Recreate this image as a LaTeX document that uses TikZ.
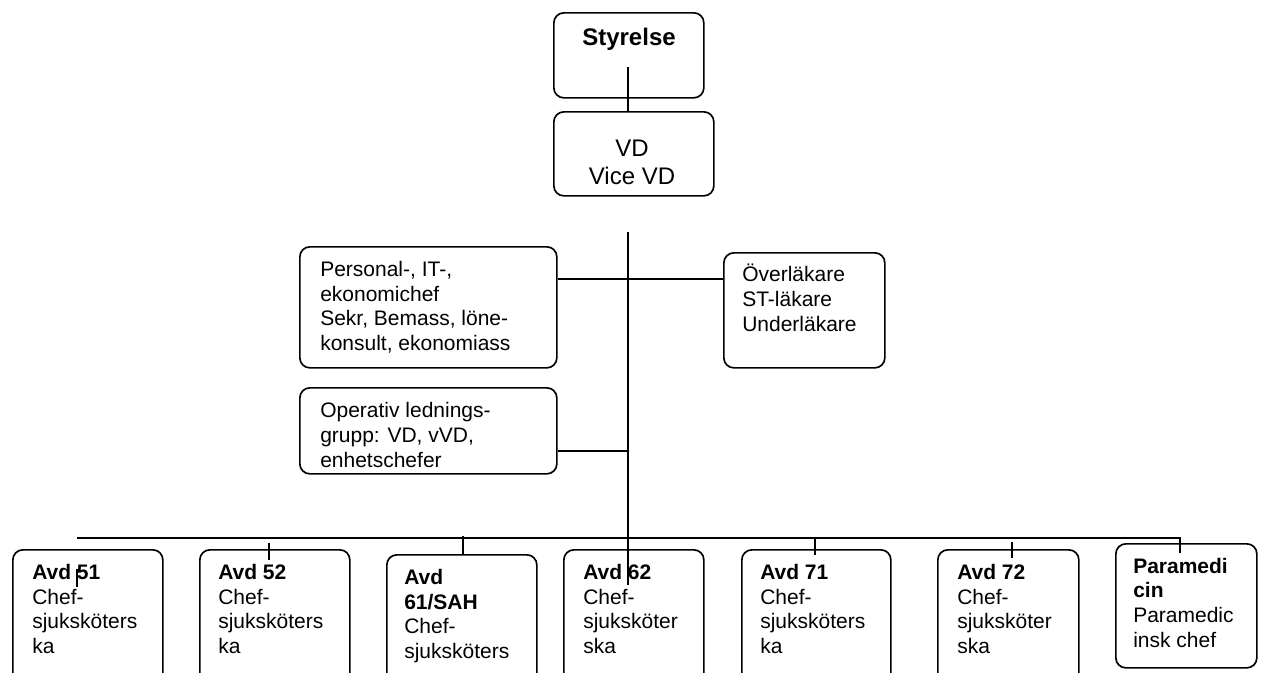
\documentclass[tikz,border=0pt]{standalone}
\usepackage{fontspec}
\setmainfont{Liberation Sans}
\begin{document}
\begin{tikzpicture}[x=0.75pt,y=-0.75pt,
  box/.style={draw, line width=1.25pt, rounded corners=7.5pt, inner sep=0pt, anchor=north west},
  txt/.style={font=\fontsize{15.75}{18.4}\selectfont, inner sep=0pt, align=left, anchor=base west},
  bigtxt/.style={font=\fontsize{18}{20.6}\selectfont, inner sep=0pt, align=center, anchor=base},
  conn/.style={line width=1pt}]
\clip (0,0) rectangle (1263,672);
\fill[white] (0,0) rectangle (1263,672);
% boxes
\node[box, minimum width=112.5pt, minimum height=63.75pt] (sty) at (553,12) {};
\node[box, minimum width=120pt, minimum height=63pt] (vd) at (553,111) {};
\node[box, minimum width=192.75pt, minimum height=90.75pt] (pers) at (299,246) {};
\node[box, minimum width=120.75pt, minimum height=86.25pt] (ovl) at (723,252) {};
\node[box, minimum width=192.75pt, minimum height=64.5pt] (op) at (299,387) {};
\node[box, minimum width=112.5pt, minimum height=105.75pt] (a51) at (12,549) {};
\node[box, minimum width=112.5pt, minimum height=105.75pt] (a52) at (199,549) {};
\node[box, minimum width=112.5pt, minimum height=102pt] (a61) at (386,554) {};
\node[box, minimum width=105pt, minimum height=105.75pt] (a62) at (563,549) {};
\node[box, minimum width=111.75pt, minimum height=105.75pt] (a71) at (741,549) {};
\node[box, minimum width=105.75pt, minimum height=105.75pt] (a72) at (937,549) {};
\node[box, minimum width=105.75pt, minimum height=93pt] (para) at (1115,543) {};
% texts (anchor = baseline of the last line)
\node[bigtxt] (tsty) at (629,45) {\textbf{Styrelse}};
\node[bigtxt] (tvd) at (632,184) {VD\\Vice VD};
\node[txt] (tpers) at (320,350.5) {Personal-, IT-,\\ekonomichef\\Sekr, Bemass, löne-\\konsult, ekonomiass};
\node[txt] (tovl) at (742,331) {Överläkare\\ST-läkare\\Underläkare};
\node[txt] (top) at (320,467) {Operativ lednings-\\grupp: VD, vVD,\\enhetschefer};
\node[txt] (t51) at (32,653.5) {\textbf{Avd 51}\\Chef-\\sjuksköters\\ka};
\node[txt] (t52) at (218,653.5) {\textbf{Avd 52}\\Chef-\\sjuksköters\\ka};
\node[txt] (t61) at (404,658.5) {\textbf{Avd}\\\textbf{61/SAH}\\Chef-\\sjuksköters};
\node[txt] (t62) at (583,653.5) {\textbf{Avd 62}\\Chef-\\sjuksköter\\ska};
\node[txt] (t71) at (760,653.5) {\textbf{Avd 71}\\Chef-\\sjuksköters\\ka};
\node[txt] (t72) at (957,653.5) {\textbf{Avd 72}\\Chef-\\sjuksköter\\ska};
\node[txt] (tpara) at (1133,647) {\textbf{Paramedi}\\\textbf{cin}\\Paramedic\\insk chef};
% connector points
\coordinate (s1) at (628,67);
\coordinate (mtop) at (628,232);
\coordinate (mbot) at (628,585);
\coordinate (jp) at (628,279);
\coordinate (jo) at (628,451);
\coordinate (busL) at (77,538);
\coordinate (busR) at (1180,538);
\coordinate (d51a) at (77,569);
\coordinate (d51b) at (77,587);
\coordinate (d52a) at (269,543);
\coordinate (d52b) at (269,560);
\coordinate (d61) at (463,536);
\coordinate (d71a) at (815,538);
\coordinate (d71b) at (815,555);
\coordinate (d72a) at (1012,542);
\coordinate (d72b) at (1012,558);
\coordinate (dpa) at (1180,537);
\coordinate (dpb) at (1180,553);
% connectors
\draw[conn] (s1) -- (vd.north -| s1);
\draw[conn] (mtop) -- (mbot);
\draw[conn] (pers.east |- jp) -- (ovl.west |- jp);
\draw[conn] (op.east |- jo) -- (jo);
\draw[conn] (busL) -- (busR);
\draw[conn] (d51a) -- (d51b);
\draw[conn] (d52a) -- (d52b);
\draw[conn] (d61) -- (a61.north -| d61);
\draw[conn] (d71a) -- (d71b);
\draw[conn] (d72a) -- (d72b);
\draw[conn] (dpa) -- (dpb);
\end{tikzpicture}
\end{document}
